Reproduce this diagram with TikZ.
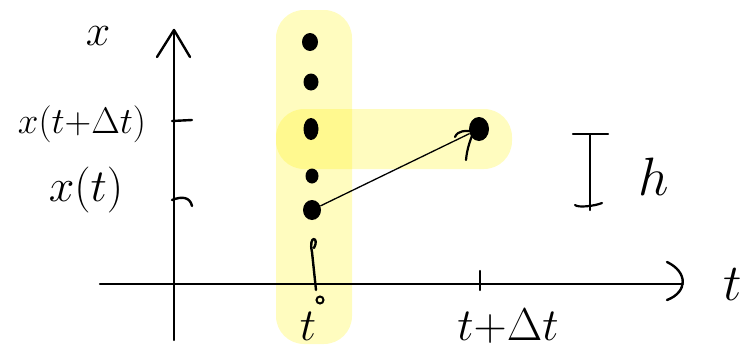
\RequirePackage{fix-cm}
\documentclass[tikz,border=0pt]{standalone}
\usetikzlibrary{arrows.meta,shapes.geometric}
\begin{document}
\begin{tikzpicture}[x=1pt,y=-1pt,
  hl/.style={fill=yellow,fill opacity=0.25,rounded corners=28pt,draw=none},
  ax/.style={line width=2.4pt,line cap=round,line join=round},
  lbl/.style={inner sep=0pt},
  dot/.style={ellipse,fill=black,inner sep=0pt,minimum width=18pt,minimum height=20pt},
  sdot/.style={ellipse,fill=black,inner sep=0pt,minimum width=16pt,minimum height=18pt}]
\useasboundingbox (0,0) rectangle (750,348);
% highlights
\fill[hl] (276,10) rectangle (352,344);
\fill[hl] (276,109) rectangle (512,169);
% axes
\coordinate (hs) at (100,284);
\coordinate (he) at (683,284);
\coordinate (vs) at (174,340);
\coordinate (ve) at (174,30);
\draw[ax] (hs) -- (he);
\draw[ax] (667,262) .. controls (688,272) and (688,292) .. (667,300);
\draw[ax] (vs) -- (ve);
\draw[ax] (157,57) -- (ve) -- (190,57);
% ticks
\draw[ax] (172,121) -- (192,120);
\draw[ax] (172,200) .. controls (182,196) and (190,197) .. (192,206);
\draw[ax] (480,271) -- (480,290);
% labels
\node[lbl,font=\fontsize{44}{48}\selectfont] (lx) at (98,36) {$x$};
\node[lbl,font=\fontsize{37}{42}\selectfont] (lxdt) at (82,124) {$x(t{+}\Delta t)$};
\node[lbl,font=\fontsize{46}{50}\selectfont] (lxt) at (86,190) {$x(t)$};
\node[lbl,font=\fontsize{52}{56}\selectfont] (lt) at (733,285) {$t$};
\node[lbl,font=\fontsize{46}{50}\selectfont] (lt0) at (308,326) {$t$};
\node[lbl,font=\fontsize{46}{50}\selectfont] (ltdt) at (508,326) {$t{+}\Delta t$};
\node[lbl,font=\fontsize{54}{58}\selectfont] (lh) at (654,177) {$h$};
% dots
\node[sdot] (d1) at (310,42) {};
\node[sdot,minimum width=15pt,minimum height=17pt] (d2) at (311,82) {};
\node[sdot,minimum width=15pt,minimum height=22pt] (d3) at (311,129) {};
\node[sdot,minimum width=13pt,minimum height=15pt] (d4) at (312,176) {};
\node[dot] (xt) at (312,210) {};
\draw[line width=2.4pt,line cap=round] (314,248) .. controls (320,237) and (308,234) .. (312,252) -- (316,290);
\draw[line width=2pt] (320,300) circle (3.5pt);
\node[dot,minimum width=20pt,minimum height=24pt] (xtdt) at (479,129) {};
% connector
\draw[line width=1.3pt] (xt) -- (xtdt);
\draw[ax,line width=2.2pt] (455,137) .. controls (458,130) and (465,131) .. (474,131) .. controls (471,138) and (467,148) .. (466,160);
% h bar
\draw[ax,line width=2.2pt] (590,135) -- (590,210);
\draw[ax,line width=2.2pt] (573,134) -- (608,134);
\draw[ax,line width=2.2pt] (575,205) .. controls (578,208) and (595,206) .. (602,203);
\end{tikzpicture}
\end{document}
